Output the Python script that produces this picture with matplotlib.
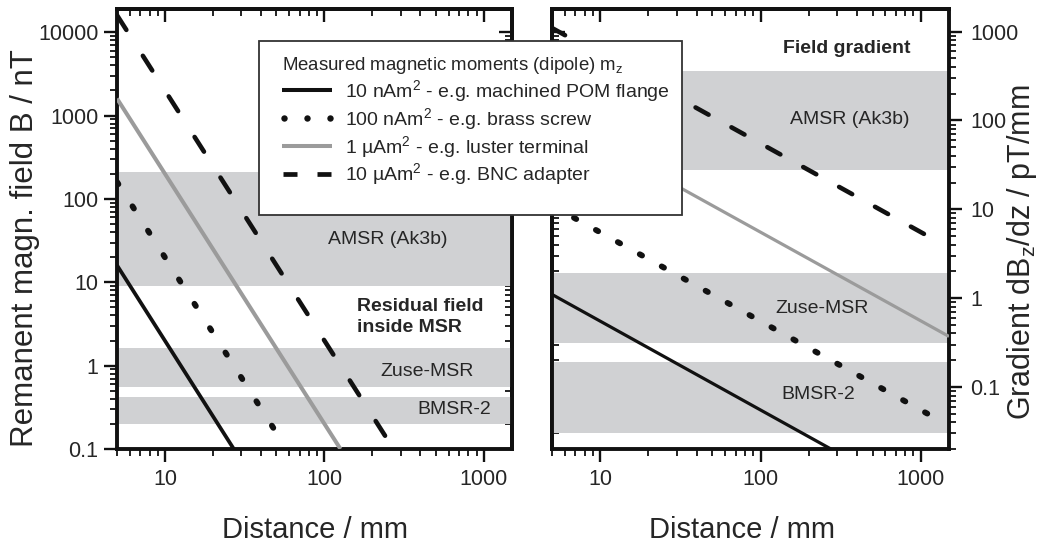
import numpy as np
import matplotlib
matplotlib.use("Agg")
import matplotlib.pyplot as plt
from matplotlib.lines import Line2D
from matplotlib.patches import Rectangle
from matplotlib.ticker import LogLocator, NullFormatter
from matplotlib.legend_handler import HandlerLine2D

plt.rcParams['font.family'] = ['Liberation Sans', 'DejaVu Sans']
plt.rcParams['mathtext.fontset'] = 'custom'
plt.rcParams['mathtext.rm'] = 'Liberation Sans'
plt.rcParams['mathtext.it'] = 'Liberation Sans:italic'
plt.rcParams['mathtext.bf'] = 'Liberation Sans:bold'

TEXT = '#262626'

# ---- data -------------------------------------------------------------
legend_title = "Measured magnetic moments (dipole) m$_\\mathregular{z}$"
moment_labels = [
    "10 nAm$^\\mathregular{2}$ - e.g. machined POM flange",
    "100 nAm$^\\mathregular{2}$ - e.g. brass screw",
    "1 \u00b5Am$^\\mathregular{2}$ - e.g. luster terminal",
    "10 \u00b5Am$^\\mathregular{2}$ - e.g. BNC adapter",
]

# remanent field B (nT) versus distance (mm): start / end of each curve
field_dist = [[5, 27], [5, 58], [5, 126], [5, 271]]
field_nT = [[16, 0.1], [160, 0.1], [1600, 0.1], [16000, 0.1]]

# field gradient dBz/dz (pT/mm) versus distance (mm)
grad_dist = [[5, 275], [5, 1100], [5, 1500], [5, 1230]]
grad_pT = [[1.1, 0.02], [11, 0.05], [110, 0.37], [1100, 4.5]]

# shielded-room ranges (low, high)
room_names = ["AMSR (Ak3b)", "Zuse-MSR", "BMSR-2"]
field_bands = [(9, 210), (0.56, 1.65), (0.2, 0.42)]
grad_bands = [(28, 360), (0.31, 1.9), (0.03, 0.19)]

x_ticks = [10, 100, 1000]
x_tick_labels = ["10", "100", "1000"]
field_ticks = [0.1, 1, 10, 100, 1000, 10000]
field_tick_labels = ["0.1", "1", "10", "100", "1000", "10000"]
grad_ticks = [0.1, 1, 10, 100, 1000]
grad_tick_labels = ["0.1", "1", "10", "100", "1000"]

# ---- styling ----------------------------------------------------------
BAND = '#d0d1d3'
GRAY = '#9b9b9b'
INK = '#111111'
styles_left = [
    dict(color=INK, lw=2.7, ls='-', solid_capstyle='butt'),
    dict(color=INK, lw=4.2, ls=(0, (0.45, 4.5)), dash_capstyle='round'),
    dict(color=GRAY, lw=2.9, ls='-', solid_capstyle='butt'),
    dict(color=INK, lw=3.3, ls=(0, (3.8, 6.7)), dash_capstyle='round'),
]
styles_right = [
    dict(color=INK, lw=2.3, ls='-', solid_capstyle='butt'),
    dict(color=INK, lw=4.2, ls=(0, (0.45, 3.85)), dash_capstyle='round'),
    dict(color=GRAY, lw=2.3, ls='-', solid_capstyle='butt'),
    dict(color=INK, lw=3.3, ls=(0, (3.25, 5.7)), dash_capstyle='round'),
]
# legend keys: dots and dashes drawn as evenly spaced markers
styles_legend = [
    dict(color=INK, lw=2.9, ls='-', solid_capstyle='butt'),
    dict(color=INK, ls='none', marker='o', ms=4.6, mew=0),
    dict(color=GRAY, lw=2.9, ls='-', solid_capstyle='butt'),
    dict(color=INK, ls='none', marker='_', ms=9.5, mew=3.4),
]

SPINE = 2.8

W, H = 1046, 547
fig = plt.figure(figsize=(W / 100, H / 100), dpi=100)
ax1 = fig.add_axes([117 / W, 1 - 449 / H, 395 / W, 440 / H])
ax2 = fig.add_axes([552 / W, 1 - 449 / H, 397 / W, 440 / H])

minor = lambda: LogLocator(base=10, subs=np.arange(2, 10), numticks=50)


def style_axes(ax, ylim, yticks, ylabels, y_side):
    ax.set_xscale('log')
    ax.set_yscale('log')
    ax.set_xlim(5, 1500)
    ax.set_ylim(*ylim)
    ax.set_xticks(x_ticks, labels=x_tick_labels)
    ax.set_yticks(yticks, labels=ylabels)
    ax.xaxis.set_minor_locator(minor())
    ax.yaxis.set_minor_locator(minor())
    ax.xaxis.set_minor_formatter(NullFormatter())
    ax.yaxis.set_minor_formatter(NullFormatter())
    for s in ax.spines.values():
        s.set_linewidth(SPINE)
        s.set_color(INK)
    ax.tick_params(which='major', length=9.5, width=1.7, color=INK,
                   labelsize=15.5, labelcolor=TEXT)
    ax.tick_params(which='minor', length=5, width=1.3, color=INK)
    ax.tick_params(axis='x', which='both', direction='out', top=False,
                   bottom=True, pad=5)
    if y_side == 'left':
        ax.tick_params(axis='y', which='both', direction='out', left=True,
                       right=False, labelleft=True, labelright=False, pad=4)
    else:
        ax.yaxis.tick_right()
        ax.yaxis.set_label_position('right')
        ax.tick_params(axis='y', which='both', direction='out', left=False,
                       right=True, labelleft=False, labelright=True, pad=6)

    # mirrored inward ticks on the opposite sides
    top = ax.secondary_xaxis('top')
    top.set_xticks(x_ticks)
    top.xaxis.set_minor_locator(minor())
    top.tick_params(which='both', direction='in', labeltop=False,
                    labelbottom=False, color=INK)
    top.tick_params(which='major', length=9.5, width=1.7)
    top.tick_params(which='minor', length=5, width=1.3)
    top.spines['top'].set_linewidth(SPINE)
    top.spines['top'].set_color(INK)
    other = 'right' if y_side == 'left' else 'left'
    side = ax.secondary_yaxis(other)
    side.set_yticks(yticks)
    side.yaxis.set_minor_locator(minor())
    side.tick_params(which='both', direction='in', labelleft=False,
                     labelright=False, color=INK)
    side.tick_params(which='major', length=9.5, width=1.7)
    side.tick_params(which='minor', length=5, width=1.3)
    side.spines[other].set_linewidth(SPINE)
    side.spines[other].set_color(INK)


style_axes(ax1, (0.1, 19000), field_ticks, field_tick_labels, 'left')
style_axes(ax2, (0.02, 1800), grad_ticks, grad_tick_labels, 'right')

for (lo, hi) in field_bands:
    ax1.axhspan(lo, hi, color=BAND, lw=0, zorder=0.5)
for (lo, hi) in grad_bands:
    ax2.axhspan(lo, hi, color=BAND, lw=0, zorder=0.5)

for xs, ys, st in zip(field_dist, field_nT, styles_left):
    ax1.plot(xs, ys, zorder=3, **st)
for xs, ys, st in zip(grad_dist, grad_pT, styles_right):
    ax2.plot(xs, ys, zorder=3, **st)

# range labels
tk = dict(fontsize=14, color=TEXT, ha='center', va='center')
ax1.text(0.686, 0.475, room_names[0], transform=ax1.transAxes, **tk)
ax1.text(0.785, 0.175, room_names[1], transform=ax1.transAxes, **tk)
ax1.text(0.853, 0.089, room_names[2], transform=ax1.transAxes, **tk)
ax1.text(0.608, 0.30, "Residual field\ninside MSR", transform=ax1.transAxes,
         fontsize=14, fontweight='bold', color=TEXT, ha='left', va='center',
         linespacing=1.25)
ax2.text(0.751, 0.748, room_names[0], transform=ax2.transAxes, **tk)
ax2.text(0.680, 0.320, room_names[1], transform=ax2.transAxes, **tk)
ax2.text(0.670, 0.123, room_names[2], transform=ax2.transAxes, **tk)
ax2.text(0.743, 0.911, "Field gradient", transform=ax2.transAxes,
         fontsize=14, fontweight='bold', color=TEXT, ha='center', va='center')

# axis labels
ax1.set_xlabel("Distance / mm", fontsize=21, color=TEXT)
ax1.xaxis.set_label_coords(0.5, -0.153)
ax2.set_xlabel("Distance / mm", fontsize=21, color=TEXT)
ax2.xaxis.set_label_coords(0.479, -0.153)
ax1.set_ylabel("Remanent magn. field B / nT", fontsize=22.5, color=TEXT)
ax1.yaxis.set_label_coords(-0.195, 0.457)
ax2.set_ylabel("Gradient dB$_\\mathregular{z}$/dz / pT/mm", fontsize=22,
               color=TEXT)
ax2.yaxis.set_label_coords(1.142, 0.448)

# legend with its own frame spanning both panels
fig.add_artist(Rectangle((259 / W, 1 - 215 / H), (682 - 259) / W, (215 - 41) / H,
                         transform=fig.transFigure, facecolor='white',
                         edgecolor='#333333', lw=1.3, zorder=4))
handles = [Line2D([], [], **st) for st in styles_legend]
hmap = {handles[1]: HandlerLine2D(numpoints=3, marker_pad=0.1),
        handles[3]: HandlerLine2D(numpoints=2, marker_pad=0.4)}
leg = fig.legend(handles, moment_labels, title=legend_title,
                 loc='upper left', bbox_to_anchor=(282 / W, 1 - 55 / H),
                 frameon=False, borderpad=0, borderaxespad=0, fontsize=14,
                 title_fontsize=13.4, alignment='left', handlelength=2.57,
                 handletextpad=0.67, labelspacing=0.1, handler_map=hmap)
leg.set_zorder(5)
for t in leg.get_texts():
    t.set_color(TEXT)
leg.get_title().set_color(TEXT)

fig.savefig("out.png", dpi=100)
